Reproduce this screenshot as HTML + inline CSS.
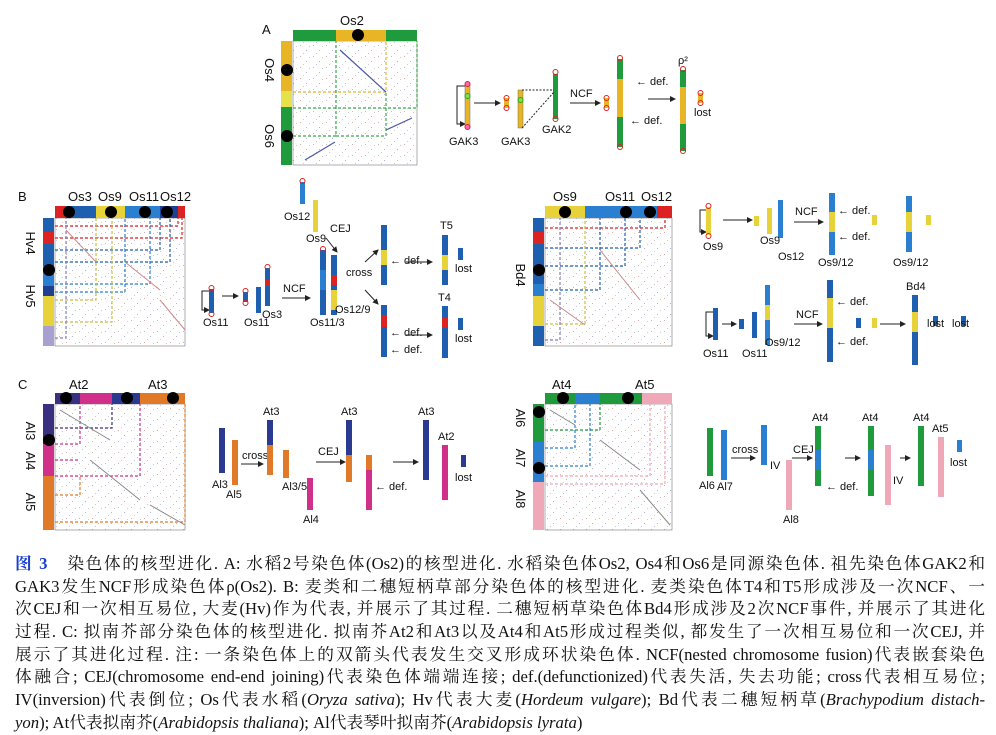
<!DOCTYPE html>
<html><head><meta charset="utf-8"><style>
body{margin:0;background:#fff;width:996px;height:734px;overflow:hidden;position:relative}
svg{position:absolute;left:0;top:0}
svg text{font-family:"Liberation Sans",sans-serif;fill:#111}
.cap{position:absolute;left:15px;top:553px;width:970px;font-family:"Liberation Serif","Noto Serif CJK SC",serif;font-size:16.7px;color:#111}
.cap div{height:22.7px;line-height:22.7px;text-align:justify;text-align-last:justify;white-space:nowrap}
.cap div.l{text-align-last:left}
.b{color:#1a3fd0;font-weight:bold}
</style></head><body>
<svg width="996" height="550" viewBox="0 0 996 550">
<defs>
<pattern id="dots" width="13" height="11" patternUnits="userSpaceOnUse">
<rect x="1" y="1" width="1" height="1" fill="#d8b0b0"/><rect x="7" y="6" width="1" height="1" fill="#aab4d8"/><rect x="10" y="2" width="1" height="1" fill="#ccc"/><rect x="4" y="9" width="1" height="1" fill="#c8c8e0"/>
</pattern>
<marker id="ar" markerWidth="6" markerHeight="6" refX="5" refY="3" orient="auto"><path d="M0,0 L6,3 L0,6 z" fill="#222"/></marker>
</defs>
<!-- ===== Panel A ===== -->
<text x="262" y="34" font-size="13">A</text>
<text x="340" y="25" font-size="13">Os2</text>
<rect x="293" y="41" width="124" height="124" fill="url(#dots)" stroke="#777" stroke-width="0.6"/>
<rect x="293" y="30" width="43" height="11" fill="#1f9a3c"/><rect x="336" y="30" width="50" height="11" fill="#e8b526"/><rect x="386" y="30" width="31" height="11" fill="#1f9a3c"/>
<circle cx="358" cy="35" r="6" fill="#000"/>
<rect x="281" y="41" width="11" height="50" fill="#e8b526"/><rect x="281" y="91" width="11" height="16" fill="#e6e04a"/><rect x="281" y="107" width="11" height="58" fill="#1f9a3c"/>
<circle cx="287" cy="70" r="6" fill="#000"/><circle cx="287" cy="136" r="6" fill="#000"/>
<text transform="translate(265,70) rotate(90)" font-size="13" text-anchor="middle">Os4</text>
<text transform="translate(265,136) rotate(90)" font-size="13" text-anchor="middle">Os6</text>
<g fill="none" stroke-dasharray="3,2" stroke-width="1.2">
<path d="M293,92 H386 V41" stroke="#e8b526"/>
<path d="M293,108 H417 V41 M336,108 V41 M293,136 H336 V108 M336,136 H386 V92" stroke="#3aa84a"/>
</g>
<path d="M340,50 L386,92 M386,130 L412,118 M305,160 L335,142" stroke="#4a5aa8" stroke-width="1.2" fill="none"/>
<!-- A right -->
<path d="M465,86 H457 V124 H465" fill="none" stroke="#222" marker-end="url(#ar)"/>
<rect x="465" y="85" width="5" height="41" fill="#e8b526" stroke="#555" stroke-width=".4"/>
<circle cx="467.5" cy="84" r="2.5" fill="#f6b" stroke="#d22"/><circle cx="467.5" cy="127" r="2.5" fill="#f6b" stroke="#d22"/><circle cx="467.5" cy="96" r="2.5" fill="#8d4" stroke="#2a2"/>
<text x="449" y="145" font-size="11">GAK3</text>
<line x1="474" y1="103" x2="500" y2="103" stroke="#222" marker-end="url(#ar)"/>
<rect x="504" y="98" width="5" height="10" fill="#e8b526"/><circle cx="506.5" cy="98" r="2.5" fill="none" stroke="#d22"/><circle cx="506.5" cy="108" r="2.5" fill="none" stroke="#d22"/>
<rect x="518" y="90" width="5" height="38" fill="#e8b526" stroke="#555" stroke-width=".4"/><circle cx="520.5" cy="100" r="2.5" fill="#8d4" stroke="#2a2"/>
<text x="501" y="145" font-size="11">GAK3</text>
<rect x="553" y="74" width="5" height="45" fill="#1f9a3c"/><circle cx="555.5" cy="72" r="2.5" fill="none" stroke="#d22"/><circle cx="555.5" cy="119" r="2.5" fill="none" stroke="#d22"/>
<path d="M522,90 H554 M522,128 L554,92" stroke="#222" stroke-dasharray="2,1.5" fill="none"/>
<text x="542" y="133" font-size="11">GAK2</text>
<text x="570" y="97" font-size="11">NCF</text>
<line x1="570" y1="103" x2="600" y2="103" stroke="#222" marker-end="url(#ar)"/>
<rect x="604" y="98" width="5" height="10" fill="#e8b526"/><circle cx="606.5" cy="98" r="2.5" fill="none" stroke="#d22"/><circle cx="606.5" cy="108" r="2.5" fill="none" stroke="#d22"/>
<rect x="617" y="59" width="6" height="20" fill="#1f9a3c"/><rect x="617" y="79" width="6" height="38" fill="#e8b526"/><rect x="617" y="117" width="6" height="30" fill="#1f9a3c"/>
<circle cx="620" cy="58" r="2.5" fill="none" stroke="#d22"/><circle cx="620" cy="147" r="2.5" fill="none" stroke="#d22"/>
<text x="636" y="85" font-size="11">← def.</text><text x="630" y="124" font-size="11">← def.</text>
<line x1="648" y1="99" x2="675" y2="99" stroke="#222" marker-end="url(#ar)"/>
<text x="678" y="64" font-size="11">ρ²</text>
<rect x="680" y="70" width="6" height="17" fill="#1f9a3c"/><rect x="680" y="87" width="6" height="37" fill="#e8b526"/><rect x="680" y="124" width="6" height="27" fill="#1f9a3c"/>
<circle cx="683" cy="69" r="2.5" fill="none" stroke="#d22"/><circle cx="683" cy="151" r="2.5" fill="none" stroke="#d22"/>
<rect x="698" y="93" width="5" height="10" fill="#e8b526"/><circle cx="700.5" cy="93" r="2.5" fill="none" stroke="#d22"/><circle cx="700.5" cy="103" r="2.5" fill="none" stroke="#d22"/>
<text x="694" y="116" font-size="11">lost</text>

<!-- ===== Panel B left ===== -->
<text x="18" y="201" font-size="13">B</text>
<text x="68" y="201" font-size="13">Os3</text><text x="98" y="201" font-size="13">Os9</text><text x="129" y="201" font-size="13">Os11</text><text x="160" y="201" font-size="13">Os12</text>
<rect x="55" y="218" width="130" height="128" fill="url(#dots)" stroke="#777" stroke-width=".6"/>
<rect x="55" y="206" width="11" height="12" fill="#d22"/><rect x="66" y="206" width="30" height="12" fill="#1f5fb0"/><rect x="96" y="206" width="29" height="12" fill="#e8d23a"/><rect x="125" y="206" width="35" height="12" fill="#2a7fd0"/><rect x="160" y="206" width="18" height="12" fill="#1f3f90"/><rect x="178" y="206" width="7" height="12" fill="#d22"/>
<circle cx="69" cy="212" r="6"/><circle cx="111" cy="212" r="6"/><circle cx="145" cy="212" r="6"/><circle cx="167" cy="212" r="6"/>
<rect x="43" y="218" width="11" height="14" fill="#1f5fb0"/><rect x="43" y="232" width="11" height="12" fill="#d22"/><rect x="43" y="244" width="11" height="22" fill="#1f5fb0"/><rect x="43" y="266" width="11" height="20" fill="#2a7fd0"/><rect x="43" y="286" width="11" height="10" fill="#1f3f90"/><rect x="43" y="296" width="11" height="30" fill="#e8d23a"/><rect x="43" y="326" width="11" height="20" fill="#a8a0d0"/>
<circle cx="49" cy="270" r="6"/>
<text transform="translate(26,243) rotate(90)" font-size="13" text-anchor="middle">Hv4</text>
<text transform="translate(26,296) rotate(90)" font-size="13" text-anchor="middle">Hv5</text>
<g fill="none" stroke-dasharray="3,2" stroke-width="1.2">
<path d="M55,226 H178 V218" stroke="#d22"/><path d="M55,238 H182 V218" stroke="#d22"/>
<path d="M55,250 H160 V218 M55,262 H170 V218" stroke="#1f5fb0"/>
<path d="M55,284 H150 V218 M55,292 H125 V218" stroke="#2a7fd0"/>
<path d="M55,300 H96 V218 M55,322 H112 V218" stroke="#c8c040"/>
<path d="M55,338 H66 V218" stroke="#8080c0"/>
</g>
<path d="M66,230 L96,262 M125,262 L160,290 M160,300 L185,330" stroke="#c88" stroke-width="1" fill="none"/>
<!-- B middle chromosomes -->
<path d="M209,291 H202 V310 H209" fill="none" stroke="#222" marker-end="url(#ar)"/>
<rect x="209" y="289" width="5" height="24" fill="#1f5fb0"/><circle cx="211.5" cy="288" r="2.5" fill="none" stroke="#d22"/><circle cx="211.5" cy="314" r="2.5" fill="none" stroke="#d22"/>
<text x="203" y="326" font-size="11">Os11</text>
<line x1="222" y1="296" x2="238" y2="296" stroke="#222" marker-end="url(#ar)"/>
<rect x="243" y="292" width="5" height="10" fill="#1f5fb0"/><circle cx="245.5" cy="291" r="2.5" fill="none" stroke="#d22"/><circle cx="245.5" cy="303" r="2.5" fill="none" stroke="#d22"/>
<rect x="256" y="287" width="5" height="26" fill="#1f5fb0"/><text x="244" y="326" font-size="11">Os11</text>
<rect x="265" y="268" width="5" height="38" fill="#1f5fb0"/><rect x="265" y="280" width="5" height="6" fill="#d22"/><circle cx="267.5" cy="267" r="2.5" fill="none" stroke="#d22"/>
<text x="262" y="318" font-size="11">Os3</text>
<text x="283" y="292" font-size="11">NCF</text><line x1="282" y1="298" x2="310" y2="298" stroke="#222" marker-end="url(#ar)"/>
<rect x="320" y="250" width="6" height="65" fill="#1f5fb0"/><rect x="320" y="270" width="6" height="20" fill="#2a7fd0"/><circle cx="323" cy="249" r="2.5" fill="none" stroke="#d22"/>
<text x="310" y="326" font-size="11">Os11/3</text>
<rect x="300" y="182" width="5" height="22" fill="#2a7fd0"/><circle cx="302.5" cy="181" r="2.5" fill="none" stroke="#d22"/>
<text x="284" y="220" font-size="11">Os12</text>
<rect x="313" y="200" width="5" height="32" fill="#e8d23a"/><text x="306" y="242" font-size="11">Os9</text>
<text x="330" y="232" font-size="11">CEJ</text><line x1="326" y1="238" x2="337" y2="252" stroke="#222" marker-end="url(#ar)"/>
<rect x="331" y="255" width="6" height="60" fill="#1f5fb0"/><rect x="331" y="290" width="6" height="20" fill="#e8d23a"/><rect x="331" y="275" width="6" height="10" fill="#d22"/>
<text x="335" y="313" font-size="11">Os12/9</text>
<text x="346" y="276" font-size="11">cross</text>
<line x1="365" y1="262" x2="378" y2="250" stroke="#222" marker-end="url(#ar)"/><line x1="365" y1="290" x2="378" y2="304" stroke="#222" marker-end="url(#ar)"/>
<rect x="381" y="225" width="6" height="60" fill="#1f5fb0"/><rect x="381" y="250" width="6" height="15" fill="#e8d23a"/>
<text x="390" y="264" font-size="11">← def.</text>
<line x1="406" y1="262" x2="432" y2="262" stroke="#222" marker-end="url(#ar)"/>
<text x="440" y="229" font-size="11">T5</text><rect x="442" y="235" width="6" height="50" fill="#1f5fb0"/><rect x="442" y="255" width="6" height="15" fill="#e8d23a"/>
<rect x="458" y="248" width="5" height="12" fill="#1f5fb0"/><text x="455" y="272" font-size="11">lost</text>
<rect x="381" y="305" width="6" height="52" fill="#1f5fb0"/><rect x="381" y="315" width="6" height="12" fill="#d22"/>
<text x="390" y="336" font-size="11">← def.</text><text x="390" y="353" font-size="11">← def.</text>
<line x1="406" y1="335" x2="432" y2="335" stroke="#222" marker-end="url(#ar)"/>
<text x="438" y="301" font-size="11">T4</text><rect x="442" y="306" width="6" height="52" fill="#1f5fb0"/><rect x="442" y="318" width="6" height="10" fill="#d22"/>
<rect x="458" y="318" width="5" height="12" fill="#1f5fb0"/><text x="455" y="342" font-size="11">lost</text>

<!-- ===== Panel B right ===== -->
<text x="553" y="201" font-size="13">Os9</text><text x="605" y="201" font-size="13">Os11</text><text x="641" y="201" font-size="13">Os12</text>
<rect x="545" y="218" width="127" height="128" fill="url(#dots)" stroke="#777" stroke-width=".6"/>
<rect x="545" y="206" width="40" height="12" fill="#e8d23a"/><rect x="585" y="206" width="72" height="12" fill="#2a7fd0"/><rect x="657" y="206" width="15" height="12" fill="#d22"/>
<circle cx="565" cy="212" r="6"/><circle cx="626" cy="212" r="6"/><circle cx="650" cy="212" r="6"/>
<rect x="533" y="218" width="11" height="14" fill="#1f5fb0"/><rect x="533" y="232" width="11" height="12" fill="#d22"/><rect x="533" y="244" width="11" height="40" fill="#1f5fb0"/><rect x="533" y="284" width="11" height="12" fill="#2a7fd0"/><rect x="533" y="296" width="11" height="30" fill="#e8d23a"/><rect x="533" y="326" width="11" height="20" fill="#1f5fb0"/>
<circle cx="539" cy="270" r="6"/>
<text transform="translate(516,275) rotate(90)" font-size="13" text-anchor="middle">Bd4</text>
<g fill="none" stroke-dasharray="3,2" stroke-width="1.2">
<path d="M545,228 H665 V218" stroke="#d22"/>
<path d="M545,248 H640 V218 M545,266 H625 V218 M545,290 H600 V218" stroke="#1f5fb0"/>
<path d="M545,324 H585 V218" stroke="#c8c040"/><path d="M545,340 H560 V218" stroke="#8080c0"/>
</g>
<path d="M550,300 L585,325 M600,250 L640,300" stroke="#c88" fill="none"/>
<!-- B right chromosomes -->
<path d="M706,210 H700 V232 H706" fill="none" stroke="#222" marker-end="url(#ar)"/>
<rect x="706" y="207" width="5" height="28" fill="#e8d23a"/><circle cx="708.5" cy="206" r="2.5" fill="none" stroke="#d22"/><circle cx="708.5" cy="236" r="2.5" fill="none" stroke="#d22"/><text x="703" y="250" font-size="11">Os9</text>
<line x1="723" y1="220" x2="752" y2="220" stroke="#222" marker-end="url(#ar)"/>
<rect x="754" y="216" width="5" height="10" fill="#e8d23a"/>
<rect x="767" y="208" width="5" height="26" fill="#e8d23a"/><rect x="778" y="200" width="5" height="38" fill="#2a7fd0"/>
<text x="760" y="244" font-size="11">Os9</text><text x="778" y="260" font-size="11">Os12</text>
<text x="795" y="215" font-size="11">NCF</text><line x1="794" y1="222" x2="823" y2="222" stroke="#222" marker-end="url(#ar)"/>
<rect x="829" y="193" width="6" height="62" fill="#2a7fd0"/><rect x="829" y="212" width="6" height="20" fill="#e8d23a"/>
<text x="838" y="214" font-size="11">← def.</text><text x="838" y="240" font-size="11">← def.</text>
<text x="818" y="266" font-size="11">Os9/12</text>
<rect x="872" y="215" width="5" height="10" fill="#e8d23a"/>
<rect x="906" y="196" width="6" height="56" fill="#2a7fd0"/><rect x="906" y="212" width="6" height="20" fill="#e8d23a"/>
<rect x="926" y="215" width="5" height="10" fill="#e8d23a"/><text x="893" y="266" font-size="11">Os9/12</text>
<path d="M713,312 H706 V336 H713" fill="none" stroke="#222" marker-end="url(#ar)"/>
<rect x="713" y="308" width="5" height="32" fill="#1f5fb0"/><text x="703" y="357" font-size="11">Os11</text>
<line x1="722" y1="324" x2="736" y2="324" stroke="#222" marker-end="url(#ar)"/>
<rect x="739" y="319" width="5" height="10" fill="#1f5fb0"/>
<rect x="752" y="312" width="5" height="26" fill="#1f5fb0"/><rect x="765" y="285" width="5" height="60" fill="#2a7fd0"/><rect x="765" y="305" width="5" height="15" fill="#e8d23a"/>
<text x="742" y="357" font-size="11">Os11</text><text x="765" y="346" font-size="11">Os9/12</text>
<text x="796" y="318" font-size="11">NCF</text><line x1="794" y1="324" x2="822" y2="324" stroke="#222" marker-end="url(#ar)"/>
<rect x="827" y="280" width="6" height="82" fill="#1f5fb0"/><rect x="827" y="298" width="6" height="30" fill="#e8d23a"/>
<text x="836" y="305" font-size="11">← def.</text><text x="836" y="345" font-size="11">← def.</text>
<rect x="856" y="318" width="5" height="10" fill="#1f5fb0"/><rect x="872" y="318" width="5" height="10" fill="#e8d23a"/>
<line x1="880" y1="324" x2="905" y2="324" stroke="#222" marker-end="url(#ar)"/>
<text x="906" y="290" font-size="11">Bd4</text><rect x="912" y="295" width="6" height="70" fill="#1f5fb0"/><rect x="912" y="312" width="6" height="20" fill="#e8d23a"/>
<rect x="933" y="316" width="5" height="10" fill="#1f5fb0"/><rect x="961" y="316" width="5" height="10" fill="#1f5fb0"/>
<text x="927" y="327" font-size="11">lost</text><text x="952" y="327" font-size="11">lost</text>

<!-- ===== Panel C left ===== -->
<text x="18" y="389" font-size="13">C</text>
<text x="69" y="389" font-size="13">At2</text><text x="148" y="389" font-size="13">At3</text>
<rect x="55" y="404" width="130" height="126" fill="url(#dots)" stroke="#777" stroke-width=".6"/>
<rect x="55" y="393" width="25" height="11" fill="#3a3080"/><rect x="80" y="393" width="32" height="11" fill="#d0308a"/><rect x="112" y="393" width="28" height="11" fill="#2a3a90"/><rect x="140" y="393" width="45" height="11" fill="#e07a28"/>
<circle cx="66" cy="398" r="6"/><circle cx="127" cy="398" r="6"/><circle cx="173" cy="398" r="6"/>
<rect x="43" y="404" width="11" height="40" fill="#3a3080"/><rect x="43" y="444" width="11" height="32" fill="#d0308a"/><rect x="43" y="476" width="11" height="54" fill="#e07a28"/>
<circle cx="49" cy="440" r="6"/>
<text transform="translate(26,431) rotate(90)" font-size="13" text-anchor="middle">Al3</text>
<text transform="translate(26,461) rotate(90)" font-size="13" text-anchor="middle">Al4</text>
<text transform="translate(26,502) rotate(90)" font-size="13" text-anchor="middle">Al5</text>
<g fill="none" stroke-dasharray="3,2" stroke-width="1.2">
<path d="M55,428 H112 V404" stroke="#3a3080"/><path d="M55,444 H80 V404 M55,460 H80" stroke="#d0308a"/><path d="M55,476 H140 V404" stroke="#d0308a"/>
<path d="M55,495 H80 V476 M55,522 H185 V404" stroke="#e07a28"/>
</g>
<path d="M60,410 L110,440 M90,460 L140,500 M150,505 L185,525" stroke="#888" fill="none"/>
<!-- C left chromosomes -->
<rect x="219" y="428" width="6" height="45" fill="#2a3a90"/><text x="212" y="488" font-size="11">Al3</text>
<rect x="232" y="440" width="6" height="45" fill="#e07a28"/><text x="226" y="498" font-size="11">Al5</text>
<text x="242" y="459" font-size="11">cross</text><line x1="241" y1="464" x2="263" y2="464" stroke="#222" marker-end="url(#ar)"/>
<text x="263" y="415" font-size="11">At3</text><rect x="267" y="420" width="6" height="55" fill="#2a3a90"/><rect x="267" y="445" width="6" height="30" fill="#e07a28"/>
<rect x="283" y="450" width="6" height="28" fill="#e07a28"/><text x="282" y="490" font-size="11">Al3/5</text>
<rect x="307" y="478" width="6" height="32" fill="#d0308a"/><text x="303" y="523" font-size="11">Al4</text>
<text x="318" y="455" font-size="11">CEJ</text><line x1="316" y1="462" x2="345" y2="462" stroke="#222" marker-end="url(#ar)"/>
<text x="341" y="415" font-size="11">At3</text><rect x="346" y="420" width="6" height="35" fill="#2a3a90"/><rect x="346" y="455" width="6" height="27" fill="#e07a28"/>
<rect x="366" y="455" width="6" height="55" fill="#d0308a"/><rect x="366" y="455" width="6" height="15" fill="#e07a28"/>
<text x="375" y="490" font-size="11">← def.</text>
<line x1="393" y1="462" x2="418" y2="462" stroke="#222" marker-end="url(#ar)"/>
<text x="418" y="415" font-size="11">At3</text><rect x="423" y="420" width="6" height="60" fill="#2a3a90"/>
<text x="438" y="440" font-size="11">At2</text><rect x="442" y="445" width="6" height="55" fill="#d0308a"/>
<rect x="461" y="455" width="5" height="12" fill="#2a3a90"/><text x="455" y="481" font-size="11">lost</text>

<!-- ===== Panel C right ===== -->
<text x="552" y="389" font-size="13">At4</text><text x="635" y="389" font-size="13">At5</text>
<rect x="545" y="404" width="127" height="126" fill="url(#dots)" stroke="#777" stroke-width=".6"/>
<rect x="545" y="393" width="30" height="11" fill="#1f9a3c"/><rect x="575" y="393" width="25" height="11" fill="#2a7fd0"/><rect x="600" y="393" width="42" height="11" fill="#1f9a3c"/><rect x="642" y="393" width="30" height="11" fill="#f0a8b8"/>
<circle cx="563" cy="398" r="6"/><circle cx="628" cy="398" r="6"/>
<rect x="533" y="404" width="11" height="38" fill="#1f9a3c"/><rect x="533" y="442" width="11" height="40" fill="#2a7fd0"/><rect x="533" y="482" width="11" height="48" fill="#f0a8b8"/>
<circle cx="539" cy="412" r="6"/><circle cx="539" cy="468" r="6"/>
<text transform="translate(516,418) rotate(90)" font-size="13" text-anchor="middle">Al6</text>
<text transform="translate(516,458) rotate(90)" font-size="13" text-anchor="middle">Al7</text>
<text transform="translate(516,499) rotate(90)" font-size="13" text-anchor="middle">Al8</text>
<g fill="none" stroke-dasharray="3,2" stroke-width="1.2">
<path d="M545,430 H600 V404" stroke="#1f9a3c"/><path d="M545,448 H575 V404 M545,466 H590 V404" stroke="#2a7fd0"/>
<path d="M545,476 H650 V404 M545,484 H665 V404" stroke="#f0a8b8"/>
</g>
<path d="M550,410 L575,425 M600,440 L640,470 M640,490 L670,525" stroke="#888" fill="none"/>
<!-- C right chromosomes -->
<rect x="707" y="428" width="6" height="48" fill="#1f9a3c"/><text x="699" y="489" font-size="11">Al6</text>
<rect x="721" y="430" width="6" height="50" fill="#2a7fd0"/><text x="717" y="490" font-size="11">Al7</text>
<text x="732" y="453" font-size="11">cross</text><line x1="731" y1="458" x2="755" y2="458" stroke="#222" marker-end="url(#ar)"/>
<rect x="761" y="425" width="6" height="40" fill="#2a7fd0"/><text x="770" y="469" font-size="11">IV</text>
<rect x="786" y="460" width="6" height="50" fill="#f0a8b8"/><text x="783" y="523" font-size="11">Al8</text>
<text x="793" y="453" font-size="11">CEJ</text><line x1="792" y1="458" x2="812" y2="458" stroke="#222" marker-end="url(#ar)"/>
<text x="812" y="421" font-size="11">At4</text><rect x="815" y="426" width="6" height="60" fill="#1f9a3c"/><rect x="815" y="450" width="6" height="20" fill="#2a7fd0"/>
<text x="826" y="490" font-size="11">← def.</text>
<line x1="845" y1="458" x2="860" y2="458" stroke="#222" marker-end="url(#ar)"/>
<text x="862" y="421" font-size="11">At4</text><rect x="868" y="426" width="6" height="70" fill="#1f9a3c"/><rect x="868" y="450" width="6" height="20" fill="#2a7fd0"/>
<rect x="885" y="445" width="6" height="60" fill="#f0a8b8"/><text x="893" y="484" font-size="11">IV</text>
<line x1="900" y1="458" x2="910" y2="458" stroke="#222" marker-end="url(#ar)"/>
<text x="913" y="421" font-size="11">At4</text><rect x="918" y="426" width="6" height="60" fill="#1f9a3c"/>
<text x="932" y="432" font-size="11">At5</text><rect x="938" y="437" width="6" height="60" fill="#f0a8b8"/>
<rect x="957" y="440" width="5" height="12" fill="#2a7fd0"/><text x="950" y="466" font-size="11">lost</text>
</svg>
<div class="cap">
<div><span class="b">图 3</span>　染色体的核型进化. A: 水稻2号染色体(Os2)的核型进化. 水稻染色体Os2, Os4和Os6是同源染色体. 祖先染色体GAK2和</div>
<div>GAK3发生NCF形成染色体ρ(Os2). B: 麦类和二穗短柄草部分染色体的核型进化. 麦类染色体T4和T5形成涉及一次NCF、一</div>
<div>次CEJ和一次相互易位, 大麦(Hv)作为代表, 并展示了其过程. 二穗短柄草染色体Bd4形成涉及2次NCF事件, 并展示了其进化</div>
<div>过程. C: 拟南芥部分染色体的核型进化. 拟南芥At2和At3以及At4和At5形成过程类似, 都发生了一次相互易位和一次CEJ, 并</div>
<div>展示了其进化过程. 注: 一条染色体上的双箭头代表发生交叉形成环状染色体. NCF(nested chromosome fusion)代表嵌套染色</div>
<div>体融合; CEJ(chromosome end-end joining)代表染色体端端连接; def.(defunctionized)代表失活, 失去功能; cross代表相互易位;</div>
<div>IV(inversion)代表倒位; Os代表水稻(<i>Oryza sativa</i>); Hv代表大麦(<i>Hordeum vulgare</i>); Bd代表二穗短柄草(<i>Brachypodium distach-</i></div>
<div class="l"><i>yon</i>); At代表拟南芥(<i>Arabidopsis thaliana</i>); Al代表琴叶拟南芥(<i>Arabidopsis lyrata</i>)</div>
</div>
</body></html>
